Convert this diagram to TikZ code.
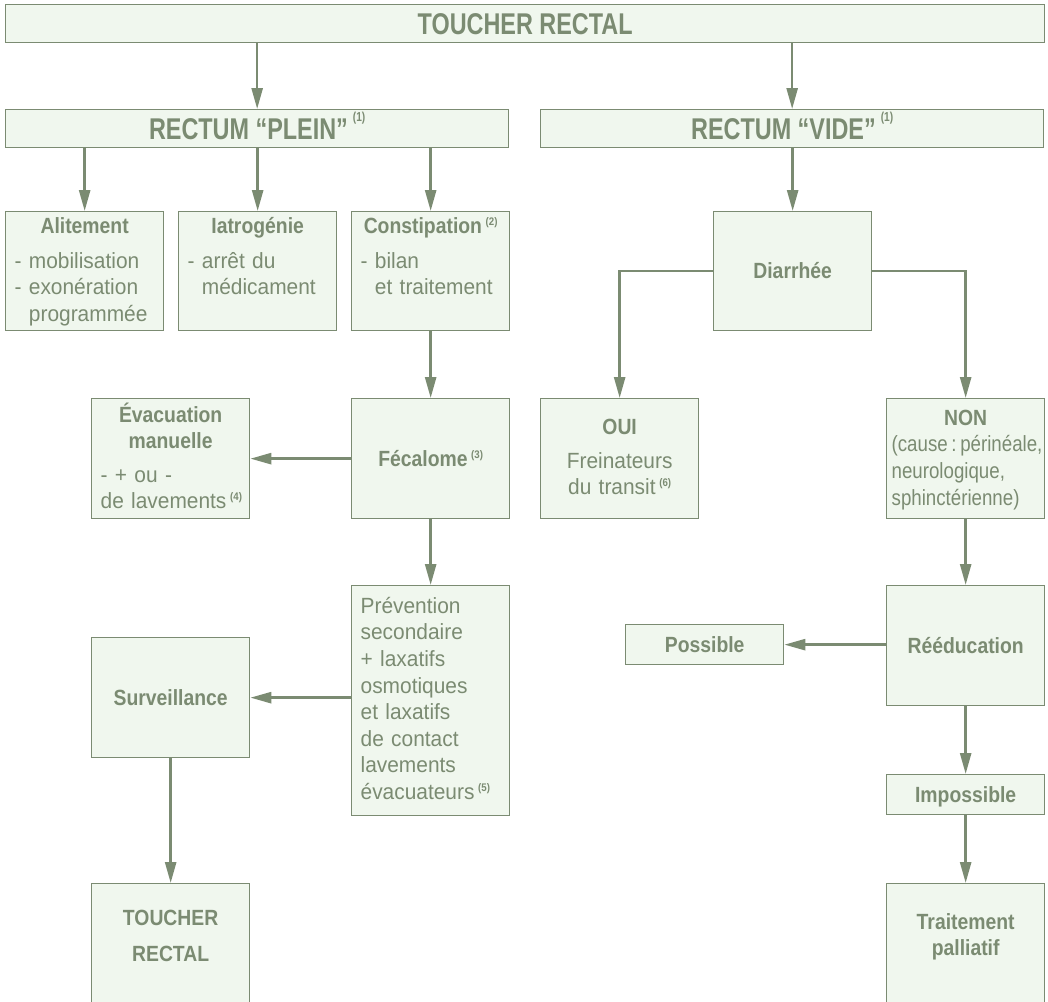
\documentclass[tikz,border=0pt]{standalone}
\usepackage{fontspec}
\setmainfont{Liberation Sans}[UprightFeatures={FakeStretch=0.95},BoldFeatures={FakeStretch=0.88}]
\newfontfamily\headfont{Liberation Sans}[FakeStretch=0.78]
\newfontfamily\narrowfont{Liberation Sans}[FakeStretch=0.85]
\usetikzlibrary{positioning,arrows.meta}
\definecolor{sage}{HTML}{7B8B72}
\definecolor{mint}{HTML}{F0F7EE}
\newcommand\fnote[1]{\,\raisebox{8pt}{\fontsize{11}{11}\selectfont\bfseries(#1)}}
\newcommand\hnote[1]{\,\raisebox{18pt}{\fontsize{13}{13}\selectfont\bfseries(#1)}}
\newcommand\firstline{\rule{0pt}{21pt}}
\tikzset{
mybox/.style 2 args={
  draw=sage,
  fill=mint,
  line width=1.3pt,
  inner sep=0pt,
  minimum width=#1,
  minimum height=#2,
  anchor=north west,
  text=sage,
  font=\fontsize{22}{26.6}\selectfont\bfseries,
  text height=15pt,
  text depth=0pt
  },
myhead/.style={
  mybox={#1}{38pt},
  font=\headfont\bfseries\fontsize{30}{30}\selectfont,
  text height=21pt
  },
mytext/.style={
  text=sage,
  inner sep=0pt,
  text width=#1,
  align=left,
  font=\fontsize{22}{26.6}\selectfont
  },
myarrow/.style={
  draw=sage,
  line width=2.6pt,
  -{Triangle[length=21pt,width=11pt]}
  }
}

\begin{document}
\begin{tikzpicture}[x=1pt,y=-1pt]
    \useasboundingbox (0,0) rectangle (1048,1001);
    \clip (0,0) rectangle (1048,1001);

    \node[myhead=1039pt] (top) at (5,4) {TOUCHER RECTAL};
    \node[myhead=503pt] (plein) at (5,109) {RECTUM “PLEIN”\hnote{1}};
    \node[myhead=503pt] (vide) at (540,109) {RECTUM “VIDE”\hnote{1}};

    \node[mybox={158pt}{119pt}] (alit) at (5,211) {};
    \node[mybox={158pt}{119pt}] (iatro) at (178,211) {};
    \node[mybox={158pt}{119pt}] (constip) at (351,211) {};
    \node[mybox={158pt}{119pt}] (diarr) at (713,211) {Diarrhée};

    \node[mytext=140pt, below=1pt of alit.north] (alit-t)
        {{\centering\bfseries\firstline Alitement\par}\vspace{8.4pt}
         - mobilisation\\
         - exonération\\
         \phantom{- }programmée};
    \node[mytext=140pt, below=1pt of iatro.north] (iatro-t)
        {{\centering\bfseries\firstline Iatrogénie\par}\vspace{8.4pt}
         - arrêt du\\
         \phantom{- }médicament};
    \node[mytext=140pt, below=1pt of constip.north] (constip-t)
        {{\centering\bfseries\firstline Constipation\fnote{2}\par}\vspace{8.4pt}
         - bilan\\
         \phantom{- }et traitement};

    \node[mybox={158pt}{120pt}] (evac) at (91,398) {};
    \node[mybox={158pt}{120pt}] (fecal) at (351,398) {Fécalome\fnote{3}};
    \node[mybox={158pt}{120pt}] (oui) at (540,398) {};
    \node[mybox={158pt}{120pt}] (non) at (886,398) {};

    \node[mytext=140pt, below=3pt of evac.north] (evac-t)
        {{\centering\bfseries\firstline Évacuation\\manuelle\par}\vspace{6.8pt}
         - + ou -\\
         \mbox{de lavements\fnote{4}}};
    \node[mytext=140pt, below=15pt of oui.north] (oui-t)
        {{\centering\bfseries\firstline OUI\par}\vspace{7.4pt}
         {\centering Freinateurs\\\mbox{du transit\fnote{6}}\par}};
    \node[mytext=148pt, below=6pt of non.north] (non-t)
        {{\centering\bfseries\firstline NON\par}
         {\narrowfont (cause\,:\,périnéale,\\
         neurologique,\\
         sphinctérienne)}};

    \node[mybox={158pt}{230pt}] (prev) at (351,585) {};
    \node[mytext=140pt, below=7pt of prev.north] (prev-t)
        {\firstline Prévention\\
         secondaire\\
         + laxatifs\\
         osmotiques\\
         et laxatifs\\
         de contact\\
         lavements\\
         \mbox{évacuateurs\fnote{5}}};

    \node[mybox={158pt}{120pt}] (surv) at (91,637) {Surveillance};
    \node[mybox={158pt}{120pt}] (reed) at (886,585) {Rééducation};
    \node[mybox={158pt}{40pt}] (poss) at (625,624) {Possible};
    \node[mybox={158pt}{40pt}] (imposs) at (886,774) {Impossible};

    \node[mybox={158pt}{122pt}] (toucher) at (91,883) {};
    \node[mybox={158pt}{122pt}] (palli) at (886,883) {};
    \node[mytext=140pt, below=27pt of toucher.north] (toucher-t)
        {{\centering\bfseries TOUCHER\\[9.4pt]RECTAL\par}};
    \node[mytext=140pt, below=30pt of palli.north] (palli-t)
        {{\centering\bfseries Traitement\\palliatif\par}};

    \draw[myarrow] (plein.north |- top.south) -- (plein.north);
    \draw[myarrow] (vide.north |- top.south) -- (vide.north);
    \draw[myarrow] (alit.north |- plein.south) -- (alit.north);
    \draw[myarrow] (iatro.north |- plein.south) -- (iatro.north);
    \draw[myarrow] (constip.north |- plein.south) -- (constip.north);
    \draw[myarrow] (diarr.north |- vide.south) -- (diarr.north);
    \draw[myarrow] (diarr.west) -| (oui.north);
    \draw[myarrow] (diarr.east) -| (non.north);
    \draw[myarrow] (fecal.north |- constip.south) -- (fecal.north);
    \draw[myarrow] (fecal.west) -- (evac.east);
    \draw[myarrow] (fecal.south) -- (prev.north);
    \draw[myarrow] (surv.east -| prev.west) -- (surv.east);
    \draw[myarrow] (surv.south) -- (toucher.north);
    \draw[myarrow] (non.south) -- (reed.north);
    \draw[myarrow] (poss.east -| reed.west) -- (poss.east);
    \draw[myarrow] (reed.south) -- (imposs.north);
    \draw[myarrow] (imposs.south) -- (palli.north);
\end{tikzpicture}
\end{document}
